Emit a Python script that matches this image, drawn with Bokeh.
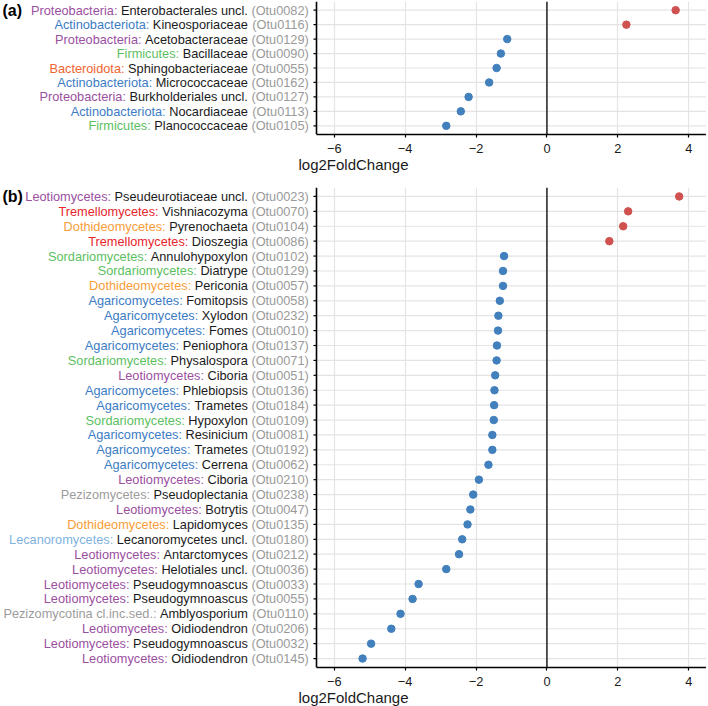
from bokeh.plotting import figure
from bokeh.layouts import column
from bokeh.models import Range1d, FixedTicker, Span, ColumnDataSource
from bokeh.core.properties import value
from bokeh.embed import file_html
from bokeh.resources import INLINE

# ---------------- data: panel (a) bacteria ----------------
groups_a = ["Proteobacteria", "Actinobacteriota", "Proteobacteria", "Firmicutes",
            "Bacteroidota", "Actinobacteriota", "Proteobacteria", "Actinobacteriota",
            "Firmicutes"]
taxa_a = ["Enterobacterales uncl.", "Kineosporiaceae", "Acetobacteraceae", "Bacillaceae",
          "Sphingobacteriaceae", "Micrococcaceae", "Burkholderiales uncl.", "Nocardiaceae",
          "Planococcaceae"]
otus_a = ["Otu0082", "Otu0116", "Otu0129", "Otu0090", "Otu0055", "Otu0162", "Otu0127",
          "Otu0113", "Otu0105"]
lfc_a = [3.63, 2.24, -1.12, -1.30, -1.42, -1.63, -2.21, -2.43, -2.84]

# ---------------- data: panel (b) fungi ----------------
groups_b = ["Leotiomycetes", "Tremellomycetes", "Dothideomycetes", "Tremellomycetes",
            "Sordariomycetes", "Sordariomycetes", "Dothideomycetes", "Agaricomycetes",
            "Agaricomycetes", "Agaricomycetes", "Agaricomycetes", "Sordariomycetes",
            "Leotiomycetes", "Agaricomycetes", "Agaricomycetes", "Sordariomycetes",
            "Agaricomycetes", "Agaricomycetes", "Agaricomycetes", "Leotiomycetes",
            "Pezizomycetes", "Leotiomycetes", "Dothideomycetes", "Lecanoromycetes",
            "Leotiomycetes", "Leotiomycetes", "Leotiomycetes", "Leotiomycetes",
            "Pezizomycotina cl.inc.sed.", "Leotiomycetes", "Leotiomycetes", "Leotiomycetes"]
taxa_b = ["Pseudeurotiaceae uncl.", "Vishniacozyma", "Pyrenochaeta", "Dioszegia",
          "Annulohypoxylon", "Diatrype", "Periconia", "Fomitopsis", "Xylodon", "Fomes",
          "Peniophora", "Physalospora", "Ciboria", "Phlebiopsis", "Trametes", "Hypoxylon",
          "Resinicium", "Trametes", "Cerrena", "Ciboria", "Pseudoplectania", "Botrytis",
          "Lapidomyces", "Lecanoromycetes uncl.", "Antarctomyces", "Helotiales uncl.",
          "Pseudogymnoascus", "Pseudogymnoascus", "Amblyosporium", "Oidiodendron",
          "Pseudogymnoascus", "Oidiodendron"]
otus_b = ["Otu0023", "Otu0070", "Otu0104", "Otu0086", "Otu0102", "Otu0129", "Otu0057",
          "Otu0058", "Otu0232", "Otu0010", "Otu0137", "Otu0071", "Otu0051", "Otu0136",
          "Otu0184", "Otu0109", "Otu0081", "Otu0192", "Otu0062", "Otu0210", "Otu0238",
          "Otu0047", "Otu0135", "Otu0180", "Otu0212", "Otu0036", "Otu0033", "Otu0055",
          "Otu0110", "Otu0206", "Otu0032", "Otu0145"]
lfc_b = [3.73, 2.29, 2.15, 1.76, -1.21, -1.24, -1.24, -1.33, -1.37, -1.38, -1.41, -1.42,
         -1.46, -1.48, -1.49, -1.50, -1.54, -1.54, -1.65, -1.92, -2.08, -2.16, -2.24,
         -2.39, -2.48, -2.84, -3.62, -3.79, -4.13, -4.39, -4.96, -5.20]

x_ticks = [-6, -4, -2, 0, 2, 4]
x_limits = (-6.5, 4.5)

group_colors = {
    "Proteobacteria": "#9b4f9f",
    "Actinobacteriota": "#3b7cc4",
    "Firmicutes": "#5cbf5f",
    "Bacteroidota": "#f0642f",
    "Leotiomycetes": "#9b4f9f",
    "Tremellomycetes": "#e8252b",
    "Dothideomycetes": "#f89d38",
    "Sordariomycetes": "#5cbf5f",
    "Agaricomycetes": "#3b7cc4",
    "Pezizomycetes": "#9c9c9c",
    "Lecanoromycetes": "#7fb2e0",
    "Pezizomycotina cl.inc.sed.": "#9c9c9c",
}
UP_COLOR = "#cf5250"
DOWN_COLOR = "#4180bd"

# ---------------- layout constants ----------------
W = 706
LABEL_PX = 316
FONT_PX = 12.75
FONT = "Liberation Sans"

# Arial / Liberation Sans advance widths (per 1000 em)
_AFM = {" ": 278, "(": 333, ")": 333, ":": 278, ".": 278, "-": 333}
_AFM.update({d: 556 for d in "0123456789"})
_AFM.update(dict(zip("ABCDEFGHIJKLMNOPQRSTUVWXYZ",
                     [667, 667, 722, 722, 667, 611, 778, 722, 278, 500, 667, 556, 833,
                      722, 778, 667, 778, 722, 667, 611, 722, 667, 944, 667, 667, 611])))
_AFM.update(dict(zip("abcdefghijklmnopqrstuvwxyz",
                     [556, 556, 500, 556, 556, 278, 556, 556, 222, 222, 500, 222, 833,
                      556, 556, 556, 556, 333, 500, 278, 556, 500, 722, 500, 500, 500])))


def text_w(s, px=FONT_PX):
    return sum(_AFM.get(c, 556) for c in s) * px / 1000.0


def make_panel(tag, groups, taxa, otus, lfc, row_px, top_border, bottom_border):
    n = len(otus)
    frame_h = round((n - 1 + 1.2) * row_px)
    lo, hi = x_limits
    scale = (W - LABEL_PX) / (hi - lo)
    x_start = lo - LABEL_PX / scale

    p = figure(frame_width=W, frame_height=frame_h,
               x_range=Range1d(x_start, hi), y_range=Range1d(-0.6, n - 1 + 0.6),
               output_backend="svg", toolbar_location=None, y_axis_location=None,
               min_border_left=0, min_border_right=0, min_border_top=top_border,
               min_border_bottom=bottom_border)
    p.outline_line_color = None
    p.background_fill_color = "white"
    p.border_fill_color = "white"

    ys = [n - 1 - i for i in range(n)]

    # grid
    p.xgrid.ticker = FixedTicker(ticks=x_ticks)
    p.xgrid.grid_line_color = "#e4e4e4"
    p.xgrid.grid_line_width = 1.2
    p.ygrid.visible = False
    p.segment(x0=[lo] * n, x1=[hi] * n, y0=ys, y1=ys, line_color="#e4e4e4",
              line_width=1.2)

    # zero line and left axis line
    p.add_layout(Span(location=0, dimension="height", line_color="black",
                      line_width=1.3))
    p.add_layout(Span(location=lo, dimension="height", line_color="black",
                      line_width=1.6))
    p.segment(x0=[lo - 3.0 / scale] * n, x1=[lo] * n, y0=ys, y1=ys,
              line_color="black", line_width=1.2)

    # points
    colors = [UP_COLOR if v > 0 else DOWN_COLOR for v in lfc]
    p.scatter(x=lfc, y=ys, size=7.5, fill_color=colors, line_color=colors)

    # multi-coloured labels
    otu_txt = ["(%s)" % o for o in otus]
    off_name = [-text_w(" " + o) for o in otu_txt]
    off_grp = [off_name[i] - text_w(" " + taxa[i]) for i in range(n)]
    lx = lo - 7.7 / scale
    src = ColumnDataSource(dict(
        x=[lx] * n, y=ys, otu=otu_txt, name=list(taxa), grp=[g + ":" for g in groups],
        off0=[0.0] * n, off1=off_name, off2=off_grp,
        gcol=[group_colors[g] for g in groups]))
    common = dict(x="x", y="y", text_align="right", text_baseline="middle",
                  text_font=value(FONT), text_font_size="%.2fpx" % FONT_PX, source=src)
    p.text(text="otu", x_offset="off0", text_color="#9a9a9a", **common)
    p.text(text="name", x_offset="off1", text_color="#1a1a1a", **common)
    p.text(text="grp", x_offset="off2", text_color="gcol", **common)

    # panel tag
    p.text(x=[x_start], y=[ys[0]], text=[tag], text_align="left", x_offset=2,
           text_baseline="middle", text_font=value(FONT), text_font_size="16px",
           text_font_style="bold", text_color="black")

    # x axis
    ax = p.xaxis[0]
    ax.ticker = FixedTicker(ticks=x_ticks)
    ax.bounds = x_limits
    ax.major_label_overrides = {t: (("\u2212%d" % -t) if t < 0 else str(t)) for t in x_ticks}
    ax.axis_line_width = 1.6
    ax.axis_line_color = "black"
    ax.major_tick_in = 0
    ax.major_tick_out = 3
    ax.major_tick_line_width = 1.2
    ax.minor_tick_in = 0
    ax.minor_tick_out = 0
    ax.major_label_standoff = 6
    ax.major_label_text_font = FONT
    ax.major_label_text_font_size = "12.75px"
    ax.major_label_text_color = "#1a1a1a"
    ax.axis_label = "log2FoldChange"
    ax.axis_label_standoff = 0
    ax.axis_label_text_font = FONT
    ax.axis_label_text_font_size = "15px"
    ax.axis_label_text_font_style = "normal"
    ax.axis_label_text_color = "#1a1a1a"
    return p


pa = make_panel("(a)", groups_a, taxa_a, otus_a, lfc_a, row_px=14.5,
                top_border=1, bottom_border=53)
pb = make_panel("(b)", groups_b, taxa_b, otus_b, lfc_b, row_px=14.9,
                top_border=0, bottom_border=38)

layout = column(pa, pb, spacing=0)
open("out.html", "w").write(file_html(layout, INLINE))
